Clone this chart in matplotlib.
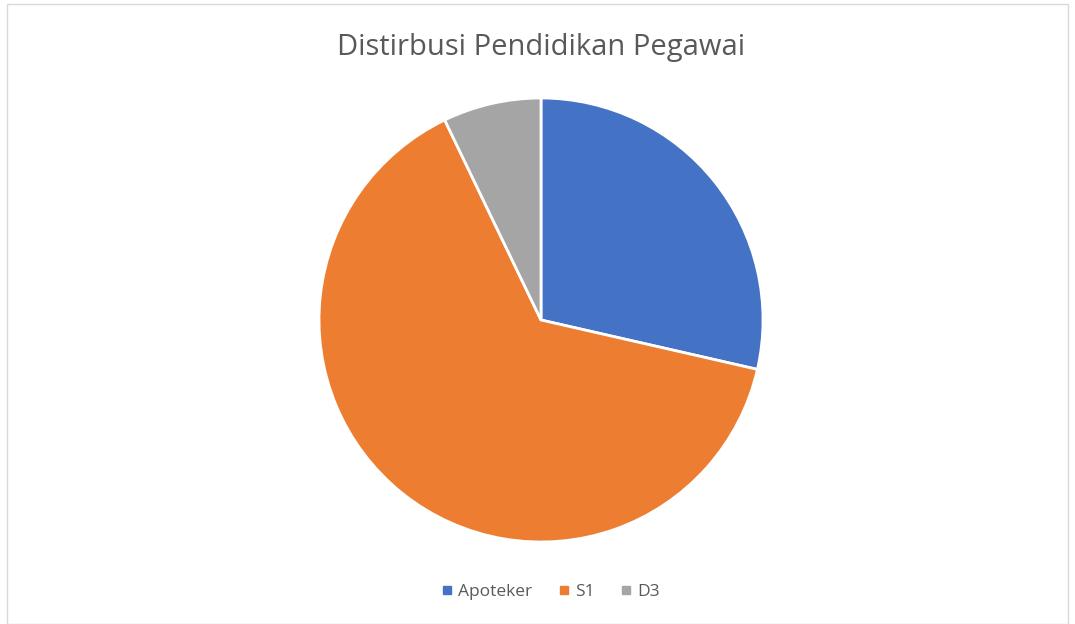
import matplotlib.pyplot as plt
from matplotlib.lines import Line2D

labels = ['Apoteker', 'S1', 'D3']
values = [4, 9, 1]
colors = ['#4472C4', '#ED7D31', '#A5A5A5']

plt.rcParams['font.family'] = ['Open Sans', 'DejaVu Sans']

W, H = 1075, 624
fig = plt.figure(figsize=(W / 100, H / 100), dpi=100)
fig.patch.set_facecolor('white')

# pie centre (541, 320), radius 222 px
cx, cy, r = 541, 320, 222
ax = fig.add_axes([(cx - r) / W, (H - cy - r) / H, 2 * r / W, 2 * r / H])
ax.pie(values, colors=colors, startangle=90, counterclock=False,
       wedgeprops=dict(edgecolor='white', linewidth=2))
ax.set_xlim(-1, 1)
ax.set_ylim(-1, 1)
ax.set_aspect('equal')
ax.axis('off')

fig.text(cx / W, 1 - 47 / H, 'Distirbusi Pendidikan Pegawai', ha='center', va='center',
         fontsize=21, color='#595959')

handles = [Line2D([], [], marker='s', linestyle='', markersize=5.5,
                  markerfacecolor=c, markeredgecolor=c) for c in colors]
fig.legend(handles, labels, loc='center', bbox_to_anchor=(549 / W, 1 - 592 / H),
           ncol=3, frameon=False, fontsize=12.5, labelcolor='#595959',
           handletextpad=0.15, columnspacing=1.3, handlelength=1)

# thin frame like the chart area border
frame = plt.Rectangle((7 / W, 0), 1 - 14 / W, 1 - 4 / H, transform=fig.transFigure,
                      fill=False, edgecolor='#D9D9D9', linewidth=1)
fig.patches.append(frame)

fig.savefig('out.png', dpi=100, facecolor='white')
